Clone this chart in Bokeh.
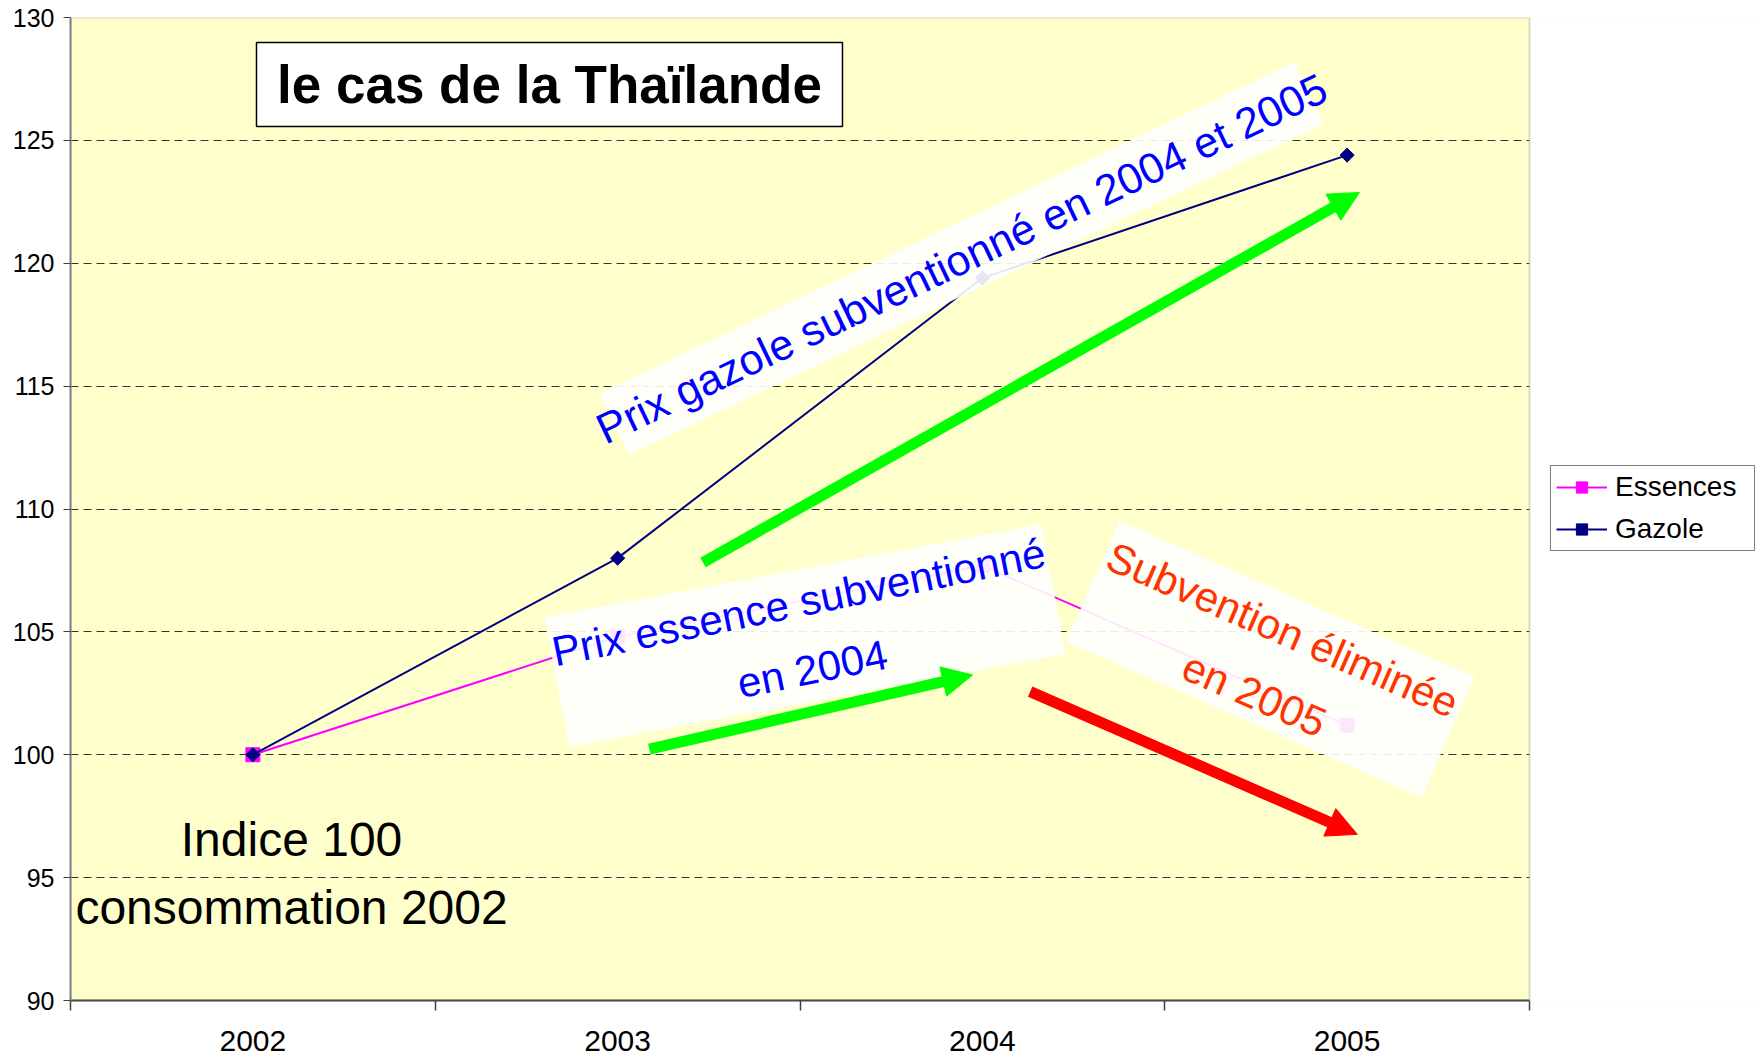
import math
from bokeh.plotting import figure
from bokeh.models import (FixedTicker, Arrow, NormalHead, Range1d, Legend, LegendItem,
                          BoxAnnotation)
from bokeh.core.properties import value
from bokeh.embed import file_html
from bokeh.resources import INLINE

# ---- data ----
years = ["2002", "2003", "2004", "2005"]
essences = [100.0, 104.8, 107.7, 101.2]
gazole = [100.0, 108.0, 119.4, 124.4]
y_ticks = [90, 95, 100, 105, 110, 115, 120, 125, 130]

title_text = "le cas de la Thaïlande"
gazole_note = "Prix gazole subventionné en 2004 et 2005"
essence_note = "Prix essence subventionné\nen 2004"
subv_note = "Subvention éliminée\nen 2005"
index_note = ["Indice 100", "consommation 2002"]

FONT = "Liberation Sans"
n = len(years)
x = [i + 0.5 for i in range(n)]

# plot area covers the categories (0..n); the frame is extended to the right
# so that the legend can sit in the white area beside the plot
PLOT_W, FRAME_W = 1459, 1691
x_end = n * FRAME_W / PLOT_W

p = figure(width=1761, height=1057,
           x_range=Range1d(0, x_end), y_range=Range1d(90, 130),
           output_backend="svg", toolbar_location=None,
           min_border_left=70, min_border_right=0,
           min_border_top=17, min_border_bottom=57)
p.background_fill_color = "#FFFFCC"
p.border_fill_color = "white"
p.outline_line_color = None

p.xgrid.visible = False
p.ygrid.ticker = FixedTicker(ticks=y_ticks)
p.ygrid.grid_line_color = "#333333"
p.ygrid.grid_line_dash = "8 5"
p.ygrid.grid_line_width = 1

xa = p.xaxis[0]
xa.bounds = (0, n)
xa.ticker = FixedTicker(ticks=x, minor_ticks=list(range(n + 1)))
xa.major_label_overrides = {xi: yr for xi, yr in zip(x, years)}
xa.major_tick_out = 0
xa.major_tick_in = 0
xa.minor_tick_out = 10
xa.minor_tick_in = 0
xa.minor_tick_line_color = "#404040"
xa.minor_tick_line_width = 1.5
xa.axis_line_color = "#404040"
xa.axis_line_width = 2
xa.major_label_text_font = FONT
xa.major_label_text_font_size = "30px"
xa.major_label_text_color = "black"
xa.major_label_standoff = 20

ya = p.yaxis[0]
ya.ticker = FixedTicker(ticks=y_ticks)
ya.major_tick_out = 7
ya.major_tick_in = 0
ya.major_tick_line_color = "#404040"
ya.axis_line_color = "#808080"
ya.axis_line_width = 2
ya.major_label_text_font = FONT
ya.major_label_text_font_size = "25px"
ya.major_label_text_color = "black"
ya.major_label_standoff = 9

# white area to the right of the plot (legend zone)
p.add_layout(BoxAnnotation(left=n, fill_color="white", fill_alpha=1, line_color=None))
# plot area border
p.add_layout(BoxAnnotation(left=0, right=n, bottom=90, top=130, fill_alpha=0,
                           line_color="#808080", line_width=2))

# ---- series ----
r_el = p.line(x, essences, line_color="#FF00FF", line_width=2)
r_em = p.scatter(x, essences, marker="square", size=14, fill_color="#FF00FF",
                 line_color="#FF00FF")
r_gl = p.line(x, gazole, line_color="#000080", line_width=2)
r_gm = p.scatter(x, gazole, marker="square", angle=math.pi / 4, size=10,
                 fill_color="#000080", line_color="#000080")

# ---- white note boxes ----
p.rect(x=[2.443, 2.014, 3.290], y=[120.19, 104.85, 103.89],
       width=[769, 505, 388], height=[68, 132, 132],
       width_units="screen", height_units="screen",
       angle=[25.5, 10.6, -23.7], angle_units="deg",
       fill_color="white", fill_alpha=0.9, line_color=None)

p.text(x=[2.443], y=[120.19], text=[gazole_note], angle=25.5, angle_units="deg",
       text_color="#0000FF", text_font=value(FONT), text_font_size=value("43px"),
       text_align="center", text_baseline="middle")
p.text(x=[2.015], y=[104.85], text=[essence_note], angle=11.5, angle_units="deg",
       text_color="#0000FF", text_font=value(FONT), text_font_size=value("42px"),
       text_align="center", text_baseline="middle", text_line_height=1.45)
p.text(x=[3.2845], y=[103.77], text=[subv_note], angle=-23.5, angle_units="deg",
       text_color="#FF3300", text_font=value(FONT), text_font_size=value("42px"),
       text_align="center", text_baseline="middle", text_line_height=1.5)

# ---- title box ----
p.rect(x=[1.3132], y=[127.27], width=[586], height=[84],
       width_units="screen", height_units="screen",
       fill_color="white", line_color="black", line_width=1.5)
p.text(x=[1.3132], y=[127.27], text=[title_text], text_color="black",
       text_font=value(FONT), text_font_size=value("53px"), text_font_style="bold",
       text_align="center", text_baseline="middle")

# ---- index note ----
p.text(x=[0.606, 0.606], y=[96.56, 93.78], text=index_note, text_color="black",
       text_font=value(FONT), text_font_size=value("48px"),
       text_align="center", text_baseline="alphabetic")

# ---- arrows ----
p.add_layout(Arrow(end=NormalHead(size=30, fill_color="#00FF00", line_color="#00FF00"),
                   x_start=1.734, y_start=107.82, x_end=3.534, y_end=122.88,
                   line_color="#00FF00", line_width=11))
p.add_layout(Arrow(end=NormalHead(size=30, fill_color="#00FF00", line_color="#00FF00"),
                   x_start=1.587, y_start=100.23, x_end=2.473, y_end=103.25,
                   line_color="#00FF00", line_width=11))
p.add_layout(Arrow(end=NormalHead(size=30, fill_color="#FF0000", line_color="#FF0000"),
                   x_start=2.631, y_start=102.57, x_end=3.528, y_end=96.76,
                   line_color="#FF0000", line_width=11))

# ---- legend ----
lg = Legend(items=[LegendItem(label="Essences", renderers=[r_el, r_em]),
                   LegendItem(label="Gazole", renderers=[r_gl, r_gm])])
lg.location = (1480, 449)
lg.border_line_color = "black"
lg.border_line_width = 1
lg.background_fill_color = "white"
lg.background_fill_alpha = 1
lg.label_text_font = FONT
lg.label_text_font_size = "28px"
lg.label_text_color = "black"
lg.glyph_width = 51
lg.glyph_height = 28
lg.label_height = 28
lg.label_width = 134
lg.label_standoff = 8
lg.padding = 5
lg.spacing = 10
lg.margin = 0
p.add_layout(lg)

open("out.html", "w").write(file_html(p, INLINE))
